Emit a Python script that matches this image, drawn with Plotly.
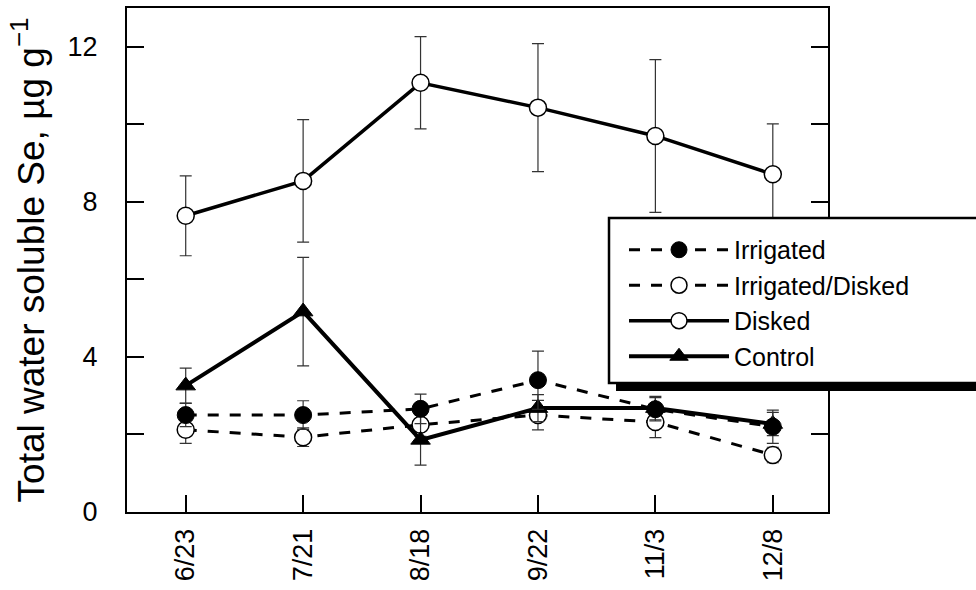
import plotly.graph_objects as go

dates = ['6/23', '7/21', '8/18', '9/22', '11/3', '12/8']

irrigated = [2.50, 2.50, 2.66, 3.40, 2.65, 2.20]
irrigated_err = [0.30, 0.37, 0.38, 0.75, 0.30, 0.43]

irr_disked = [2.12, 1.93, 2.25, 2.50, 2.32, 1.47]
irr_disked_err = [0.35, 0.24, 0.30, 0.38, 0.40, 0.20]

disked = [7.64, 8.54, 11.07, 10.43, 9.70, 8.71]
disked_err = [1.03, 1.58, 1.19, 1.65, 1.97, 1.30]

control = [3.26, 5.17, 1.86, 2.68, 2.68, 2.27]
control_err = [0.45, 1.40, 0.65, 0.35, 0.30, 0.30]

y_tickvals = [0, 4, 8, 12]
y_ticktext = ['0', '4', '8', '12']

FONT = 'Liberation Sans, Arial, Helvetica, sans-serif'
ERR = dict(type='data', thickness=1.2, width=6, color='#333333')

fig = go.Figure()

fig.add_trace(go.Scatter(
    x=dates, y=irr_disked, name='Irrigated/Disked', legendrank=2,
    mode='lines+markers',
    line=dict(color='black', width=3, dash='11px,11px'),
    marker=dict(symbol='circle', size=17, color='white', line=dict(color='black', width=1.5)),
    error_y=dict(array=irr_disked_err, **ERR),
))
fig.add_trace(go.Scatter(
    x=dates, y=disked, name='Disked', legendrank=3,
    mode='lines+markers',
    line=dict(color='black', width=3.5),
    marker=dict(symbol='circle', size=17, color='white', line=dict(color='black', width=1.5)),
    error_y=dict(array=disked_err, **ERR),
))
fig.add_trace(go.Scatter(
    x=dates, y=control, name='Control', legendrank=4,
    mode='lines+markers',
    line=dict(color='black', width=4),
    marker=dict(symbol='triangle-up', size=17, color='black', line=dict(color='black', width=1)),
    error_y=dict(array=control_err, **ERR),
))
fig.add_trace(go.Scatter(
    x=dates, y=irrigated, name='Irrigated', legendrank=1,
    mode='lines+markers',
    line=dict(color='black', width=3, dash='11px,11px'),
    marker=dict(symbol='circle', size=17, color='black', line=dict(color='black', width=1)),
    error_y=dict(array=irrigated_err, **ERR),
))

# legend frame: drop shadow, then white box running off the right edge
fig.add_shape(type='rect', xref='paper', yref='paper',
              x0=0.6976, x1=1.3, y0=0.240, y1=0.57,
              fillcolor='black', line=dict(width=0), layer='above')
fig.add_shape(type='rect', xref='paper', yref='paper',
              x0=0.6876, x1=1.3, y0=0.256, y1=0.5833,
              fillcolor='white', line=dict(color='black', width=2.5), layer='above')

fig.update_layout(
    width=976, height=590,
    margin=dict(l=127, r=148, t=8, b=78, autoexpand=False),
    paper_bgcolor='white', plot_bgcolor='white',
    font=dict(family=FONT, color='black', size=27),
    showlegend=True,
    legend=dict(
        x=0.709, y=0.5655, xanchor='left', yanchor='top',
        bgcolor='rgba(0,0,0,0)', borderwidth=0,
        font=dict(family=FONT, size=25, color='black'),
        itemwidth=100, tracegroupgap=0,
    ),
    xaxis=dict(
        type='category', range=[-0.5, 5.47],
        showline=True, linecolor='black', linewidth=2, mirror=True,
        ticks='inside', ticklen=17, tickwidth=1.5, tickcolor='black',
        tickangle=-90, tickfont=dict(size=27, family=FONT),
        ticklabelstandoff=4,
        showgrid=False, zeroline=False,
    ),
    yaxis=dict(
        range=[0, 13],
        tickvals=y_tickvals, ticktext=y_ticktext,
        minor=dict(dtick=2, tick0=0, ticks='inside', ticklen=17, tickwidth=1.5, tickcolor='black', showgrid=False),
        showline=True, linecolor='black', linewidth=2, mirror='allticks',
        ticks='inside', ticklen=17, tickwidth=1.5, tickcolor='black',
        tickfont=dict(size=27, family=FONT),
        ticklabelstandoff=22,
        showgrid=False, zeroline=False,
        title=dict(text='Total water soluble Se, µg g<sup>−1</sup>',
                   font=dict(size=37, family=FONT), standoff=12),
    ),
)

fig.write_html('out.html')
